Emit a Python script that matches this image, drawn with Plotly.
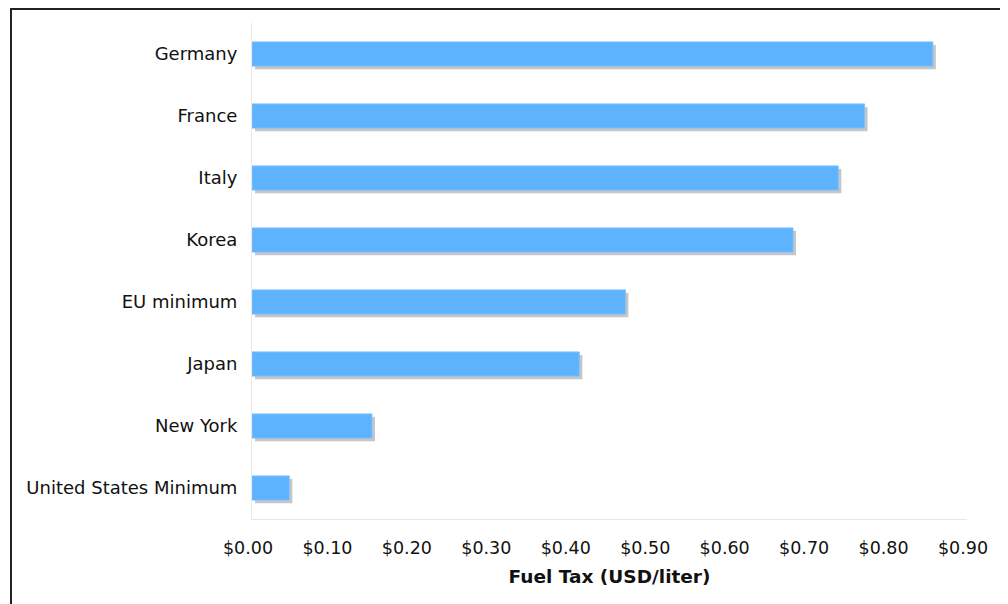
import plotly.graph_objects as go

categories = ["United States Minimum", "New York", "Japan", "EU minimum",
              "Korea", "Italy", "France", "Germany"]
values = [0.047, 0.151, 0.412, 0.470, 0.681, 0.738, 0.771, 0.857]
tick_vals = [0.0, 0.1, 0.2, 0.3, 0.4, 0.5, 0.6, 0.7, 0.8, 0.9]
tick_text = ["$0.00", "$0.10", "$0.20", "$0.30", "$0.40", "$0.50",
             "$0.60", "$0.70", "$0.80", "$0.90"]
x_title = "Fuel Tax (USD/liter)"

positions = list(range(len(categories)))
dx = 0.0038   # shadow offset (3px) in data units
dy = 0.05

# page body has an 8px default margin; compensate
OFF = 8

fig = go.Figure()
fig.add_trace(go.Bar(
    x=values, y=[p - dy for p in positions], base=dx,
    orientation="h", width=0.39,
    marker=dict(color="#c6c6c6", line=dict(width=0)),
    hoverinfo="skip", showlegend=False))
fig.add_trace(go.Bar(
    x=values, y=positions, orientation="h", width=0.39,
    marker=dict(color="#5EB3FF", line=dict(color="#7cc2ff", width=1)),
    showlegend=False, name=""))

fig.update_layout(
    width=1008 - OFF, height=604 - OFF,
    margin=dict(l=252 - OFF, r=41, t=23 - OFF, b=85, pad=0),
    paper_bgcolor="white", plot_bgcolor="white",
    barmode="overlay",
    font=dict(family="DejaVu Sans, Verdana, sans-serif", size=18, color="#111"),
    xaxis=dict(range=[0, 0.9], tickvals=tick_vals, ticktext=tick_text,
               showgrid=False, zeroline=False, showline=True,
               linecolor="#e8e8e8", linewidth=1,
               ticks="outside", ticklen=13, tickcolor="rgba(0,0,0,0)",
               ticklabelshift=-4,
               tickfont=dict(size=17.5),
               title=dict(text="<b>" + x_title + "</b>", font=dict(size=18.5), standoff=13)),
    yaxis=dict(range=[-0.5, 7.5], tickvals=positions, ticktext=categories,
               showgrid=False, zeroline=False, showline=True,
               linecolor="#e8e8e8", linewidth=1,
               ticks="outside", ticklen=10, tickcolor="rgba(0,0,0,0)",
               tickfont=dict(size=18)),
    shapes=[dict(type="rect", xref="paper", yref="paper",
                 x0=(11 - 252) / 715, x1=2, y0=-1, y1=1 + (23 - 9) / 496,
                 line=dict(color="#222", width=2), layer="above")],
)

fig.write_html("out.html")
